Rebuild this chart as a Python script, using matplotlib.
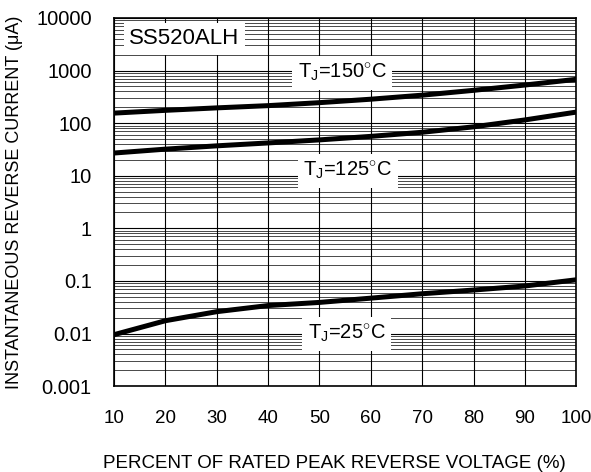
import matplotlib
matplotlib.use("Agg")
import matplotlib.pyplot as plt
from matplotlib.ticker import FixedLocator, LogLocator, NullFormatter

plt.rcParams['font.family'] = ['Liberation Sans', 'DejaVu Sans']
plt.rcParams['mathtext.fontset'] = 'custom'
plt.rcParams['mathtext.rm'] = 'Liberation Sans'

# percent of rated peak reverse voltage
voltage_pct = [10, 20, 30, 40, 50, 60, 70, 80, 90, 100]
# reverse current (uA) per junction temperature
ir_150 = [155, 175, 195, 215, 245, 285, 340, 420, 530, 680]
ir_125 = [27, 32, 37, 42, 48, 56, 67, 85, 115, 162]
ir_25 = [0.0095, 0.0175, 0.026, 0.034, 0.039, 0.047, 0.057, 0.067, 0.080, 0.105]

x_ticks = [10, 20, 30, 40, 50, 60, 70, 80, 90, 100]
y_ticks = [0.001, 0.01, 0.1, 1, 10, 100, 1000, 10000]
y_tick_labels = ["0.001", "0.01", "0.1", "1", "10", "100", "1000", "10000"]

fig = plt.figure(figsize=(5.91, 4.72), dpi=100)
ax = fig.add_axes([0.193, 0.182, 0.782, 0.780])

ax.set_yscale("log")
ax.set_xlim(10, 100)
ax.set_ylim(0.001, 10000)

# grid
ax.xaxis.set_major_locator(FixedLocator(x_ticks))
ax.yaxis.set_major_locator(FixedLocator(y_ticks))
ax.yaxis.set_minor_locator(LogLocator(base=10, subs=range(2, 10), numticks=20))
ax.yaxis.set_minor_formatter(NullFormatter())
ax.set_yticklabels(y_tick_labels)
ax.grid(which="major", axis="both", color="black", linewidth=0.8)
ax.grid(which="minor", axis="y", color="black", linewidth=0.5)
ax.tick_params(which="both", length=0)
ax.tick_params(axis="y", pad=16, labelsize=14.5)
ax.tick_params(axis="x", pad=17, labelsize=13.5)

for s in ax.spines.values():
    s.set_linewidth(1.2)

for ir in (ir_150, ir_125, ir_25):
    ax.plot(voltage_pct, ir, color="black", linewidth=3.6, solid_capstyle="butt", zorder=3)

box = dict(facecolor="white", edgecolor="none", pad=4)
ax.text(0.152, 0.943, "SS520ALH", transform=ax.transAxes, fontsize=16,
        ha="center", va="center", bbox=box, zorder=4)
ax.text(0.494, 0.851, r"T$_\mathregular{J}$=150$^{\circ}$C", transform=ax.transAxes,
        fontsize=14.5, ha="center", va="center", bbox=box, zorder=4)
ax.text(0.506, 0.584, r"T$_\mathregular{J}$=125$^{\circ}$C", transform=ax.transAxes,
        fontsize=14.5, ha="center", va="center", bbox=box, zorder=4)
ax.text(0.504, 0.141, r"T$_\mathregular{J}$=25$^{\circ}$C", transform=ax.transAxes,
        fontsize=14.5, ha="center", va="center", bbox=box, zorder=4)

ax.set_xlabel("PERCENT OF RATED PEAK REVERSE VOLTAGE (%)", fontsize=13.5)
ax.xaxis.set_label_coords(0.476, -0.186)
ax.set_ylabel("INSTANTANEOUS REVERSE CURRENT (μA)", fontsize=13)
ax.yaxis.set_label_coords(-0.197, 0.5)

fig.savefig("out.png", dpi=100)
